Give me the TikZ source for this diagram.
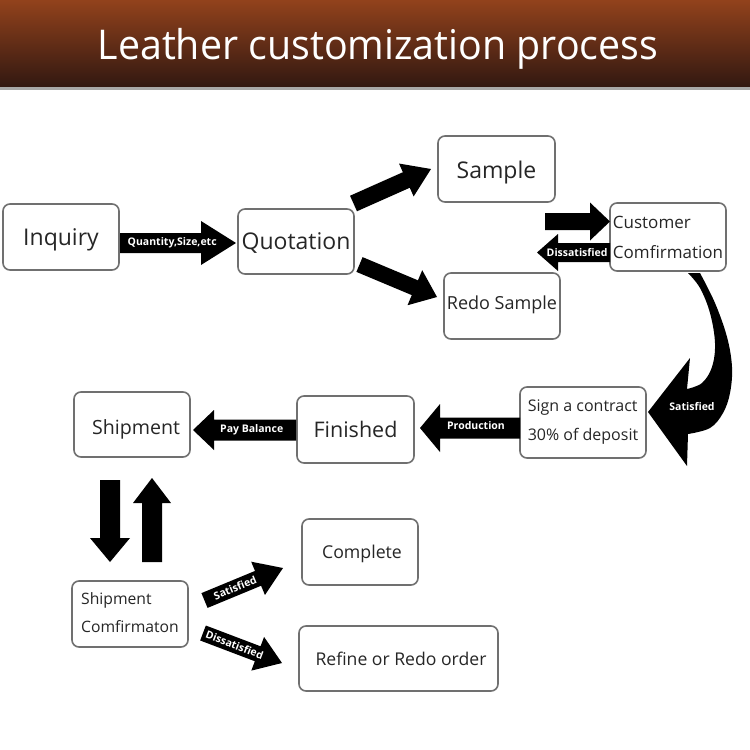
\documentclass[tikz,border=0pt]{standalone}
\usepackage{graphicx}
\usepackage{fontspec}
\setmainfont{Open Sans}
\usetikzlibrary{calc}
\definecolor{boxgray}{HTML}{707070}
\definecolor{txt}{HTML}{262626}
\definecolor{hdtop}{HTML}{92421C}
\definecolor{hdbot}{HTML}{321811}
\definecolor{hdline}{HTML}{A8A8A8}
\newcommand\fs[2]{\fontsize{#1pt}{#2pt}\selectfont}
% block arrow: #1 tail, #2 tip, #3 half shaft, #4 half head, #5 head length, #6 name
\newcommand\blockarr[6]{%
  \coordinate (#6-h) at ($(#2)!#5!(#1)$);
  \fill[arrowfill] ($(#1)!#3!90:(#2)$) -- ($(#6-h)!#3!90:(#2)$) -- ($(#6-h)!#4!90:(#2)$) -- (#2)
    -- ($(#6-h)!#4!-90:(#2)$) -- ($(#6-h)!#3!-90:(#2)$) -- ($(#1)!#3!-90:(#2)$) -- cycle;
}
\tikzset{
  basebox/.style={draw=boxgray, line width=1.6pt, rounded corners=7pt, fill=white, text=txt, inner sep=0pt},
  box/.style={basebox, align=center, text depth=0pt},
  lbox/.style={basebox, align=left},
  arrowfill/.style={fill=black},
  arrlabel/.style={text=white, font=\fs{10.5}{12}\bfseries, inner sep=0pt},
}
\begin{document}
\begin{tikzpicture}[x=1pt,y=-1pt]
\useasboundingbox (0,0) rectangle (750,750);
\fill[white] (0,0) rectangle (750,750);
% header
\shade[top color=hdtop, bottom color=hdbot] (0,0) rectangle (750,87);
\fill[hdline] (0,87) rectangle (750,90);
\node[text=white, font=\fs{41}{48}, inner sep=0pt] (title) at (378,49) {\scalebox{0.96}[1]{Leather customization process}};

% boxes
\node[box, minimum width=116pt, minimum height=66pt, font=\fs{23}{28}] (inq) at (61,237) {Inquiry};
\node[box, minimum width=116pt, minimum height=65pt, font=\fs{23}{28}] (quo) at (296,241.5) {\raisebox{1pt}{Quotation}};
\node[box, minimum width=117pt, minimum height=66pt, font=\fs{23}{28}] (sam) at (496.5,169) {\raisebox{-2.5pt}{Sample}};
\node[box, minimum width=116pt, minimum height=66pt, font=\fs{18}{22}] (redo) at (502,306) {\raisebox{6pt}{Redo Sample}};
\node[lbox, minimum width=116pt, minimum height=68pt, font=\fs{17}{30}] (cust) at (668,237) {Customer\\Comfirmation};
\node[lbox, minimum width=126pt, minimum height=71pt, font=\fs{16}{29}] (sign) at (583,422.5) {Sign a contract\\30\% of deposit};
\node[box, minimum width=117pt, minimum height=67pt, font=\fs{21.5}{26}] (fin) at (355.5,429.5) {Finished};
\node[box, minimum width=116pt, minimum height=65pt, font=\fs{19.6}{24}] (ship) at (132,424.5) {\hspace*{8pt}\raisebox{-4.5pt}{Shipment}};
\node[lbox, minimum width=116pt, minimum height=66pt, font=\fs{15.7}{28}] (sconf) at (130,614) {\raisebox{2.5pt}{Shipment}\\\raisebox{2.5pt}{Comfirmaton}};
\node[box, minimum width=116pt, minimum height=66pt, font=\fs{17.7}{22}] (comp) at (360,552) {\hspace*{4pt}Complete};
\node[box, minimum width=199pt, minimum height=65pt, font=\fs{17.6}{22}] (refine) at (398.5,658.5) {\hspace*{5pt}\raisebox{-1.5pt}{Refine or Redo order}};

% arrow end points
\coordinate (qaA) at (120,243);   \coordinate (qaB) at (236,243);
\coordinate (saA) at (353.5,203.5); \coordinate (saB) at (431,169);
\coordinate (raA) at (359.5,264.5); \coordinate (raB) at (437,297);
\coordinate (caA) at (545,221.5); \coordinate (caB) at (610,221.5);
\coordinate (daA) at (610,252.5); \coordinate (daB) at (537,252.5);
\coordinate (paA) at (520,428);   \coordinate (paB) at (420,428);
\coordinate (pbA) at (296,430);   \coordinate (pbB) at (193,430);
\coordinate (dnA) at (110,480);   \coordinate (dnB) at (110,562);
\coordinate (upA) at (152,562);   \coordinate (upB) at (152,478);
\coordinate (stA) at (204.5,600.5); \coordinate (stB) at (283,568);
\coordinate (dsA) at (203,633);   \coordinate (dsB) at (282,663);

\blockarr{qaA}{qaB}{10pt}{22pt}{35pt}{qa}
\blockarr{saA}{saB}{8.5pt}{18pt}{27pt}{sa}
\blockarr{raA}{raB}{8pt}{19pt}{24pt}{ra}
\blockarr{caA}{caB}{8.5pt}{19pt}{20pt}{ca}
\blockarr{daA}{daB}{9.5pt}{18.5pt}{21pt}{da}
\blockarr{paA}{paB}{10.5pt}{24pt}{20pt}{pa}
\blockarr{pbA}{pbB}{10.5pt}{20pt}{21pt}{pb}
\blockarr{dnA}{dnB}{10pt}{20pt}{24pt}{dn}
\blockarr{upA}{upB}{10pt}{19pt}{25pt}{up}
\blockarr{stA}{stB}{8pt}{18pt}{27pt}{st}
\blockarr{dsA}{dsB}{8pt}{18pt}{26pt}{ds}

% arrow labels
\path (qaA) -- (qaB) node[pos=0.45, sloped, arrlabel] (qal) {Quantity,Size,etc};
\path (daA) -- (daB) node[pos=0.45, sloped, arrlabel] (dal) {Dissatisfied};
\path (paA) -- (paB) node[pos=0.44, sloped, arrlabel, yshift=2pt] (pal) {Production};
\path (pbA) -- (pbB) node[pos=0.43, sloped, arrlabel] (pbl) {Pay Balance};
\path (stA) -- (stB) node[pos=0.39, sloped, arrlabel] (stl) {Satisfied};
\path (dsA) -- (dsB) node[pos=0.4, sloped, arrlabel] (dsl) {Dissatisfied};

% big curved arrow: Customer Comfirmation -> Sign a contract
\coordinate (cvA) at (694,273);
\coordinate (cvB) at (648,412);
\fill[arrowfill] (688,273) -- plot[smooth, tension=0.6] coordinates {(700,273) (715,303) (727,337) (732,367) (730,393) (723,413) (710,428) (688,434)}
  -- (687,466) -- (cvB) -- (690,358) -- (687,389)
  -- plot[smooth, tension=0.6] coordinates {(687,389) (702,383) (712,367) (715,343) (710,313) (700,288) (688,273)} -- cycle;
\node[arrlabel] (cvl) at (692,407) {Satisfied};
\end{tikzpicture}
\end{document}
